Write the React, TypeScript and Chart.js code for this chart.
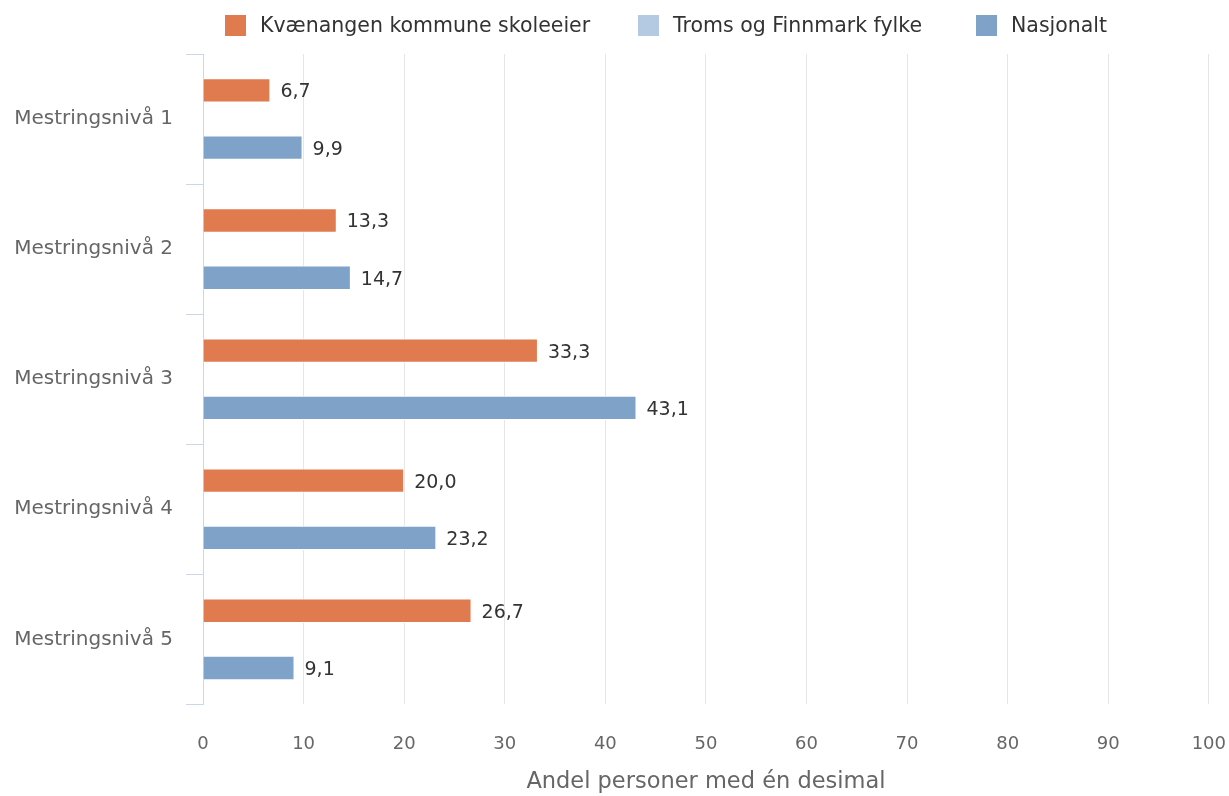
import React, { useEffect, useRef } from "react";
import { Chart, registerables } from "chart.js";

Chart.register(...registerables);

const categories = [
  "Mestringsnivå 1",
  "Mestringsnivå 2",
  "Mestringsnivå 3",
  "Mestringsnivå 4",
  "Mestringsnivå 5",
];
const seriesNames = [
  "Kvænangen kommune skoleeier",
  "Troms og Finnmark fylke",
  "Nasjonalt",
];
const kvaenangen = [6.7, 13.3, 33.3, 20.0, 26.7];
const fylke: (number | null)[] = [null, null, null, null, null];
const nasjonalt = [9.9, 14.7, 43.1, 23.2, 9.1];
const xTickValues = [0, 10, 20, 30, 40, 50, 60, 70, 80, 90, 100];
const axisTitle = "Andel personer med én desimal";
const colors = ["#e07b4f", "#b3cae2", "#7fa3c8"];

const legendLefts = [225, 638, 976];

const FONT = "'DejaVu Sans', Verdana, sans-serif";

const fmt = (v: number) => v.toFixed(1).replace(".", ",");

const valueLabels = {
  id: "valueLabels",
  afterDatasetsDraw(chart: any) {
    const ctx = chart.ctx;
    ctx.save();
    ctx.font = `19px ${FONT}`;
    ctx.fillStyle = "#333333";
    ctx.textBaseline = "middle";
    ctx.textAlign = "left";
    chart.data.datasets.forEach((ds: any, i: number) => {
      const meta = chart.getDatasetMeta(i);
      meta.data.forEach((el: any, j: number) => {
        const v = ds.data[j];
        if (v === null || v === undefined) return;
        ctx.fillText(fmt(v), el.x + 10, el.y + 2);
      });
    });
    ctx.restore();
  },
};

export default function App() {
  const ref = useRef<HTMLCanvasElement>(null);
  useEffect(() => {
    document.body.style.margin = "0";
    const chart = new Chart(ref.current!, {
      type: "bar",
      data: {
        labels: categories,
        datasets: [kvaenangen, fylke, nasjonalt].map((d, i) => ({
          label: seriesNames[i],
          data: d,
          backgroundColor: colors[i],
          borderColor: "#ffffff",
          borderWidth: 1,
          categoryPercentage: 0.66,
          barPercentage: 0.85,
        })),
      },
      options: {
        indexAxis: "y",
        responsive: false,
        animation: false,
        layout: { padding: { top: 54, right: 0, bottom: 0, left: 0 } },
        plugins: {
          legend: { display: false },
          tooltip: { enabled: false },
        },
        scales: {
          x: {
            min: 0,
            max: 100,
            afterBuildTicks: (scale: any) => {
              scale.ticks = xTickValues.map((v) => ({ value: v }));
            },
            afterFit: (scale: any) => {
              scale.paddingRight = Math.max(scale.paddingRight - 4, 0);
            },
            ticks: {
              color: "#666666",
              font: { family: FONT, size: 18 },
              padding: 7,
            },
            grid: {
              color: "#e6e6e6",
              drawTicks: true,
              tickLength: 22,
              tickColor: "rgba(0,0,0,0)",
            },
            border: { display: false },
            title: {
              display: true,
              text: axisTitle,
              color: "#666666",
              font: { family: FONT, size: 22.5 },
              padding: { top: 7, bottom: 0 },
            },
          },
          y: {
            afterFit: (scale: any) => {
              scale.width = 203;
            },
            ticks: {
              color: "#666666",
              font: { family: FONT, size: 20 },
              padding: 13,
            },
            grid: {
              offset: true,
              drawOnChartArea: false,
              tickLength: 17,
              color: "#ccd6eb",
            },
            border: { display: true, color: "#ccd6eb" },
          },
        },
      },
      plugins: [valueLabels],
    } as any);
    return () => chart.destroy();
  }, []);

  return (
    <div style={{ position: "relative", width: 1229, height: 796, fontFamily: FONT }}>
      {seriesNames.map((n, i) => (
        <div
          key={n}
          style={{
            position: "absolute",
            left: legendLefts[i],
            top: 14,
            height: 22,
            display: "flex",
            alignItems: "center",
            whiteSpace: "nowrap",
          }}
        >
          <span
            style={{
              display: "inline-block",
              width: 21,
              height: 21,
              background: colors[i],
              marginRight: 14,
            }}
          />
          <span style={{ fontSize: 20.5, color: "#333333", lineHeight: "22px" }}>{n}</span>
        </div>
      ))}
      <canvas ref={ref} width={1229} height={796} style={{ display: "block" }} />
    </div>
  );
}
